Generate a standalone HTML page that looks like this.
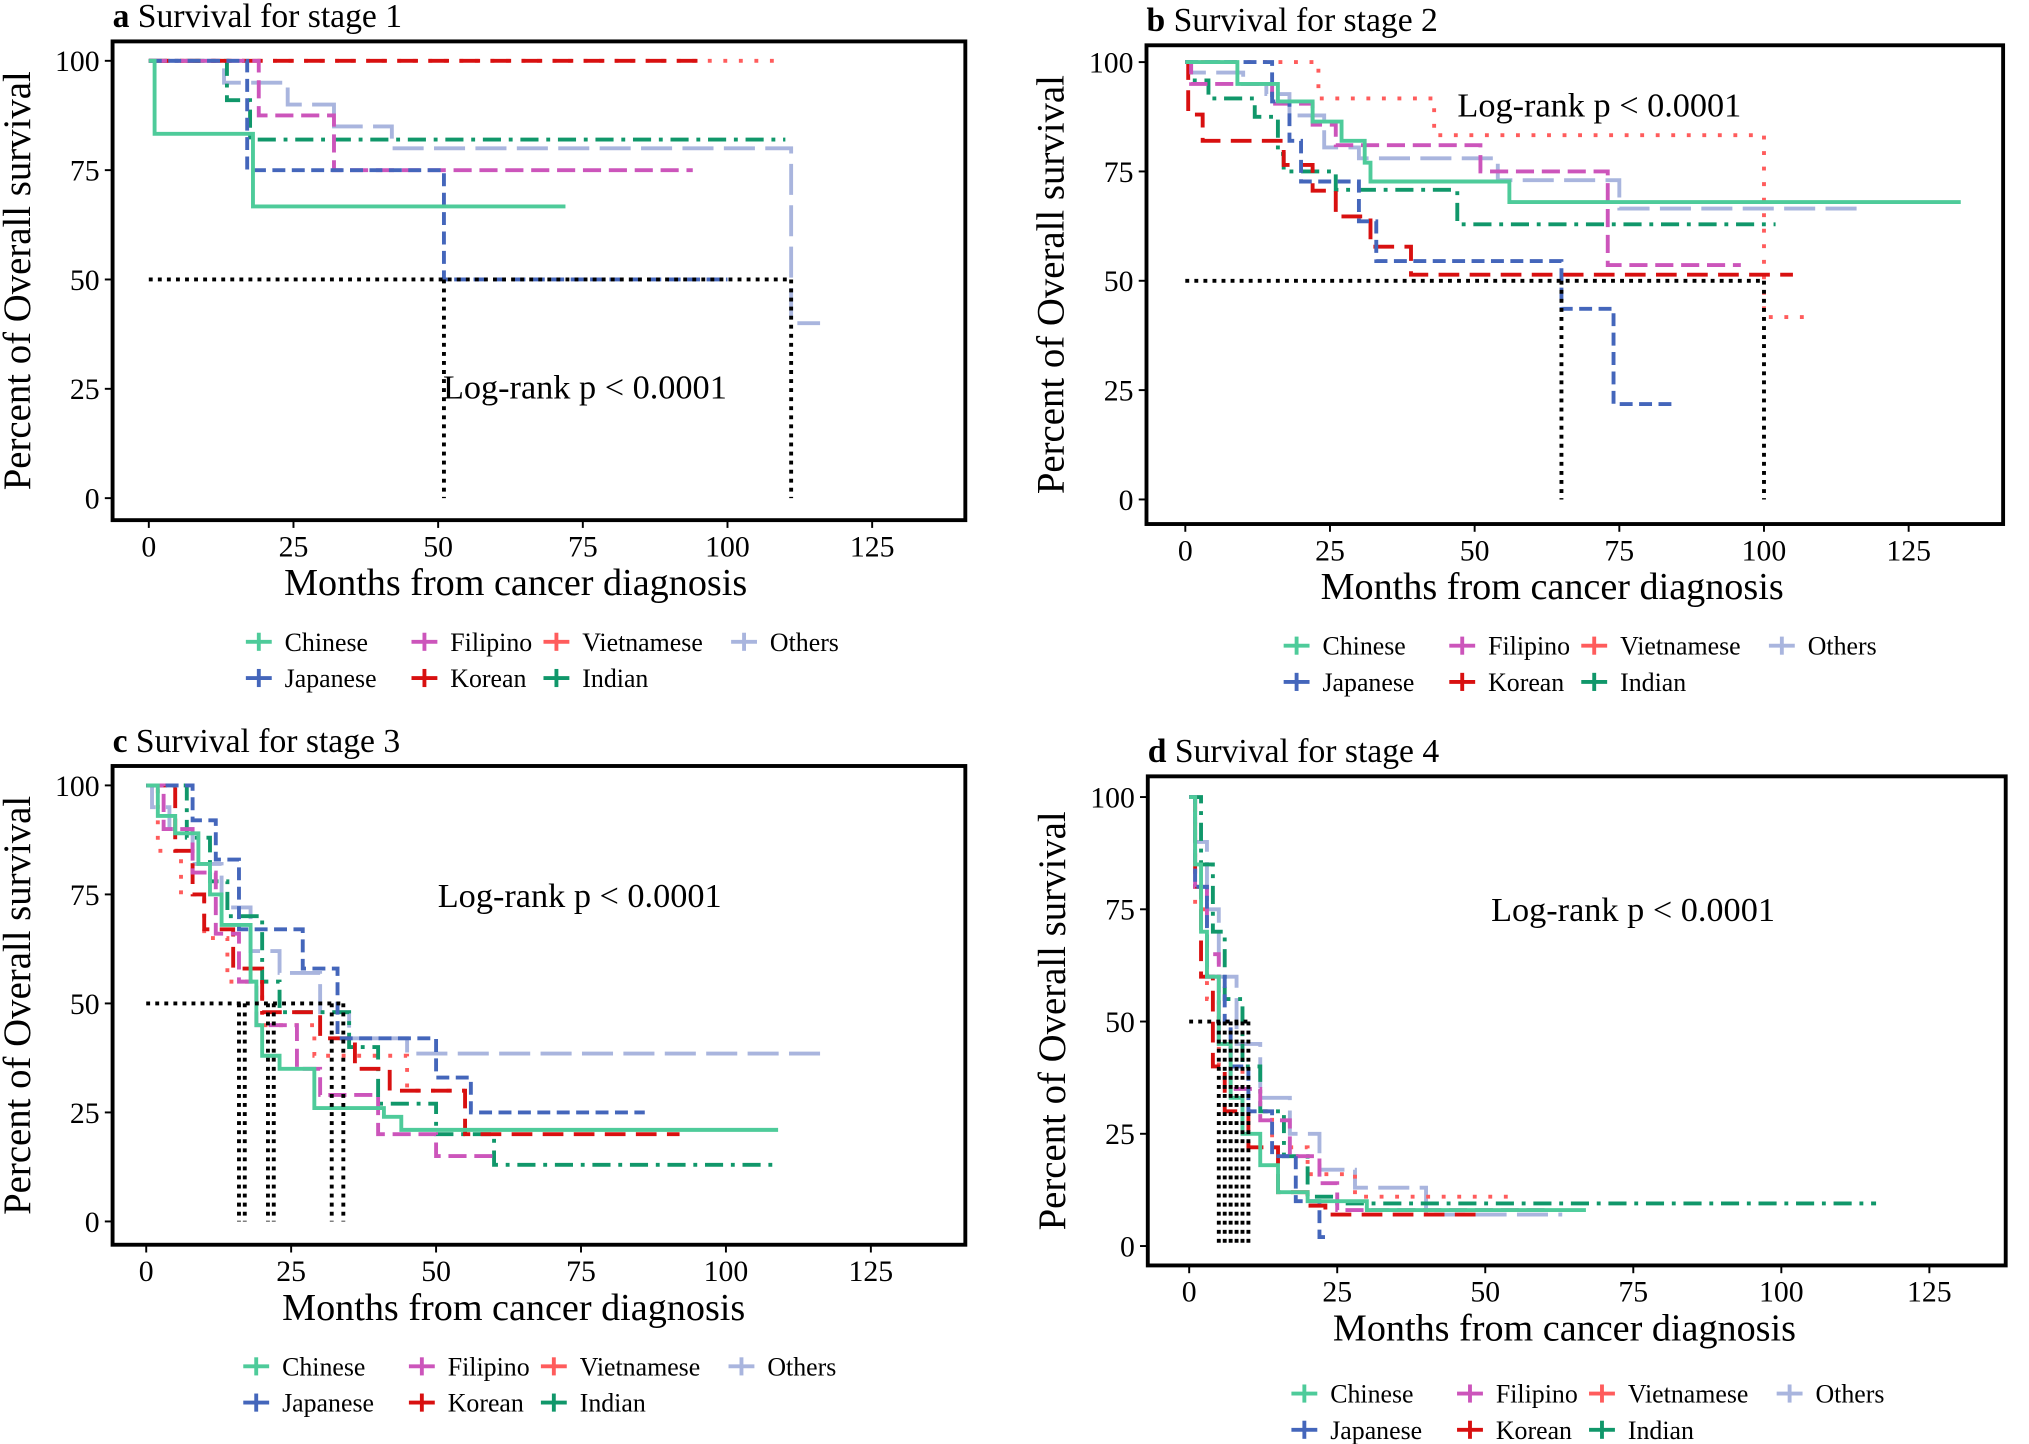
<!DOCTYPE html>
<html><head><meta charset="utf-8"><style>
html,body{margin:0;padding:0;background:#fff}
svg{display:block}
text{font-family:"Liberation Serif",serif;fill:#000}
</style></head><body>
<svg id="fig" width="2029" height="1444" viewBox="0 0 1568 1116" preserveAspectRatio="none" xmlns="http://www.w3.org/2000/svg"></svg>
<script>
const groups = ["Chinese","Japanese","Filipino","Vietnamese","Korean","Indian","Others"];
const xTicks = [0,25,50,75,100,125];
const yTicks = [0,25,50,75,100];
// stage 1 data: [times], [survival]
const a_Chinese_t=[0,1,18,72], a_Chinese_s=[100,83.3,66.7,66.7];
const a_Japanese_t=[0,17,51,100], a_Japanese_s=[100,75,50,50];
const a_Filipino_t=[0,19,32,94], a_Filipino_s=[100,87.5,75,75];
const a_Vietnamese_t=[0,108], a_Vietnamese_s=[100,100];
const a_Korean_t=[0,95], a_Korean_s=[100,100];
const a_Indian_t=[0,13.5,17.5,110], a_Indian_s=[100,91,82,82];
const a_Others_t=[0,13,24,32,42,111,116], a_Others_s=[100,95,90,85,80,40,40];
const a_medians=[51,111];
// stage 2
const b_Chinese_t=[0,9,16,22,27,31,32,56,134], b_Chinese_s=[100,95,91,86.4,82,77,72.7,68,68];
const b_Japanese_t=[0,15,18,20,30,33,65,74,84], b_Japanese_s=[100,91,82,72.7,63.6,54.5,43.6,21.8,21.8];
const b_Filipino_t=[0,1,15,22,26,51,73,96], b_Filipino_s=[100,95,90.5,85.7,81,75,53.6,53.6];
const b_Vietnamese_t=[0,23,43,100,108], b_Vietnamese_s=[100,91.7,83.3,41.7,41.7];
const b_Korean_t=[0,0.5,3,17,22,26,32,39,105], b_Korean_s=[100,88,82,76.5,70.6,64.7,57.8,51.4,51.4];
const b_Indian_t=[0,1,4,12,16,17,26,47,102], b_Indian_s=[100,95.8,91.7,87.5,79,75,70.8,62.9,62.9];
const b_Others_t=[0,1,10,14,18,24,30,54,75,117], b_Others_s=[100,97.6,95,92.7,87.8,80.5,78,73,66.5,66.5];
const b_medians=[65,100];
// stage 3
const c_Chinese_t=[0,2,5,9,11,13,18,19,20,23,29,41,44,109], c_Chinese_s=[100,93,89,82,75,68,55,45,38,35,26,24,21,21];
const c_Japanese_t=[0,8,12,16,27,33,50,56,86], c_Japanese_s=[100,92,83,67,58,42,33,25,25];
const c_Filipino_t=[0,3,8,12,16,19,26,30,40,50,60], c_Filipino_s=[100,90,80,66,55,45,35,29,20,15,15];
const c_Vietnamese_t=[0,2,6,10,14,20,29,45,55], c_Vietnamese_s=[100,85,75,65,55,45,38,30,30];
const c_Korean_t=[0,5,8,10,15,20,30,36,42,55,92], c_Korean_s=[100,85,75,67,58,48,42,35,30,20,20];
const c_Indian_t=[0,7,11,14,20,23,35,40,50,60,108], c_Indian_s=[100,88,78,70,55,48,40,27,20,13,13];
const c_Others_t=[0,1,4,8,13,18,23,30,35,45,117], c_Others_s=[100,95,90,82,72,62,57,48,42,38.5,38.5];
const c_medians=[16,17,21,22,32,34];
// stage 4
const d_Chinese_t=[0,1,2,3,5,7,9,12,15,20,30,67], d_Chinese_s=[100,85,70,60,45,33,25,18,12,10,8,8];
const d_Japanese_t=[0,1,3,6,7,10,14,18,22,23], d_Japanese_s=[100,80,60,50,40,30,20,10,2,2];
const d_Filipino_t=[0,1,3,5,7,12,17,22,25,60], d_Filipino_s=[100,80,65,45,35,28,20,14,8,8];
const d_Vietnamese_t=[0,1,3,5,9,14,20,28,55], d_Vietnamese_s=[100,75,55,40,30,22,16,11,11];
const d_Korean_t=[0,1,2,4,6,10,15,20,23,50], d_Korean_s=[100,80,60,40,30,22,12,9,7,7];
const d_Indian_t=[0,2,4,6,9,12,16,20,25,116], d_Indian_s=[100,85,70,55,40,30,20,11,9.5,9.5];
const d_Others_t=[0,1,3,5,8,12,17,22,28,40,63], d_Others_s=[100,90,75,60,45,33,25,17,13,7,7];
const d_medians=[5,6,7,8,9,10];

const styles={
 Chinese:{c:"#4ecb9a",d:""},
 Japanese:{c:"#4466bb",d:"10,5"},
 Filipino:{c:"#cc55bb",d:"14,6"},
 Vietnamese:{c:"#ff5c5c",d:"3,9"},
 Korean:{c:"#d81010",d:"16,8"},
 Indian:{c:"#10976a",d:"14,6,3,6"},
 Others:{c:"#a9b5de",d:"24,8"}
};
const NS="http://www.w3.org/2000/svg";
const svg=document.getElementById('fig');
function mk(tag,attrs,parent){const e=document.createElementNS(NS,tag);for(const k in attrs)e.setAttribute(k,attrs[k]);(parent||svg).appendChild(e);return e;}

const panels=[
 {id:"a",title:"Survival for stage 1",bx:87,by:32,bw:659,bh:370,x0:115,x125:674,y100:47,y0:385,lr:[452,300],leg:[200,496]},
 {id:"b",title:"Survival for stage 2",bx:886,by:35,bw:662,bh:370,x0:916,x125:1475,y100:48,y0:386,lr:[1236,82],leg:[1002,499]},
 {id:"c",title:"Survival for stage 3",bx:87,by:592,bw:659,bh:370,x0:113,x125:673,y100:607,y0:944,lr:[448,693],leg:[198,1056]},
 {id:"d",title:"Survival for stage 4",bx:887,by:600,bw:663,bh:378,x0:919,x125:1491,y100:616,y0:963,lr:[1262,704],leg:[1008,1077]}
];
const allArr={a_Chinese_t,a_Chinese_s,a_Japanese_t,a_Japanese_s,a_Filipino_t,a_Filipino_s,a_Vietnamese_t,a_Vietnamese_s,a_Korean_t,a_Korean_s,a_Indian_t,a_Indian_s,a_Others_t,a_Others_s,
b_Chinese_t,b_Chinese_s,b_Japanese_t,b_Japanese_s,b_Filipino_t,b_Filipino_s,b_Vietnamese_t,b_Vietnamese_s,b_Korean_t,b_Korean_s,b_Indian_t,b_Indian_s,b_Others_t,b_Others_s,
c_Chinese_t,c_Chinese_s,c_Japanese_t,c_Japanese_s,c_Filipino_t,c_Filipino_s,c_Vietnamese_t,c_Vietnamese_s,c_Korean_t,c_Korean_s,c_Indian_t,c_Indian_s,c_Others_t,c_Others_s,
d_Chinese_t,d_Chinese_s,d_Japanese_t,d_Japanese_s,d_Filipino_t,d_Filipino_s,d_Vietnamese_t,d_Vietnamese_s,d_Korean_t,d_Korean_s,d_Indian_t,d_Indian_s,d_Others_t,d_Others_s};
const medMap={a:a_medians,b:b_medians,c:c_medians,d:d_medians};
const drawOrder=["Others","Vietnamese","Indian","Korean","Filipino","Japanese","Chinese"];

panels.forEach(p=>{
 const g=mk('g',{});
 
 
 const X=t=>p.x0+(p.x125-p.x0)*t/125;
 const Y=s=>p.y0+(p.y100-p.y0)*s/100;
 const tt=mk('text',{x:p.bx,y:p.by-11,'font-size':26},g);
 
 
 tt.innerHTML='<tspan font-weight="bold">'+p.id+'</tspan> '+p.title;
 drawOrder.forEach(name=>{
  const T=allArr[p.id+'_'+name+'_t'], S=allArr[p.id+'_'+name+'_s'];
  let d='M'+X(T[0])+','+Y(S[0]);
  for(let i=1;i<T.length;i++){d+=' H'+X(T[i])+' V'+Y(S[i]);}
  const st=styles[name];
  const path=mk('path',{d:d,fill:'none',stroke:st.c,'stroke-width':3,'stroke-dasharray':st.d},g);
  
  
 });
 const meds=medMap[p.id];
 const mh=mk('line',{x1:X(0),y1:Y(50),x2:X(Math.max(...meds)),y2:Y(50),stroke:'#000','stroke-width':3,'stroke-dasharray':'3,4'},g);
 
 
 meds.forEach(m=>{
  const v=mk('line',{x1:X(m),y1:Y(50),x2:X(m),y2:Y(0),stroke:'#000','stroke-width':3,'stroke-dasharray':'3,4'},g);
  
  
 });
 const box=mk('rect',{x:p.bx,y:p.by,width:p.bw,height:p.bh,fill:'none',stroke:'#000','stroke-width':3},g);
 
 
 xTicks.forEach(t=>{
  const l=mk('line',{x1:X(t),y1:p.by+p.bh,x2:X(t),y2:p.by+p.bh+6,stroke:'#000','stroke-width':1.5},g);
  
  
  const tx=mk('text',{x:X(t),y:p.by+p.bh+28,'font-size':23,'text-anchor':'middle'},g);
  
  
  tx.textContent=t;
 });
 yTicks.forEach(s=>{
  const l=mk('line',{x1:p.bx-6,y1:Y(s),x2:p.bx,y2:Y(s),stroke:'#000','stroke-width':1.5},g);
  
  
  const tx=mk('text',{x:p.bx-10,y:Y(s)+8,'font-size':23,'text-anchor':'end'},g);
  
  
  tx.textContent=s;
 });
 const xt=mk('text',{x:(p.x0+p.x125)/2+4,y:p.by+p.bh+58,'font-size':29.5,'text-anchor':'middle'},g);
 
 
 xt.textContent='Months from cancer diagnosis';
 const cy=(p.by+p.bh/2);
 const yt=mk('text',{x:0,y:0,'font-size':30,'text-anchor':'middle',transform:'translate('+(p.bx-64)+','+cy+') rotate(-90)'},g);
 
 
 yt.textContent='Percent of Overall survival';
 const lr=mk('text',{x:p.lr[0],y:p.lr[1]+8,'font-size':26.5,'text-anchor':'middle'},g);
 
 
 lr.textContent='Log-rank p < 0.0001';
 const pos=[[0,0,"Chinese"],[128,0,"Filipino"],[230,0,"Vietnamese"],[375,0,"Others"],[0,28,"Japanese"],[128,28,"Korean"],[230,28,"Indian"]];
 pos.forEach(q=>{
  const lx=p.leg[0]+q[0], ly=p.leg[1]+q[1], st=styles[q[2]];
  const lg=mk('g',{},g);
  
  
  mk('line',{x1:lx-10,y1:ly,x2:lx+10,y2:ly,stroke:st.c,'stroke-width':3},lg);
  mk('line',{x1:lx,y1:ly-7,x2:lx,y2:ly+7,stroke:st.c,'stroke-width':3},lg);
  const t=mk('text',{x:lx+20,y:ly+7,'font-size':20},lg);
  t.textContent=q[2];
 });
});
</script>
</body></html>
